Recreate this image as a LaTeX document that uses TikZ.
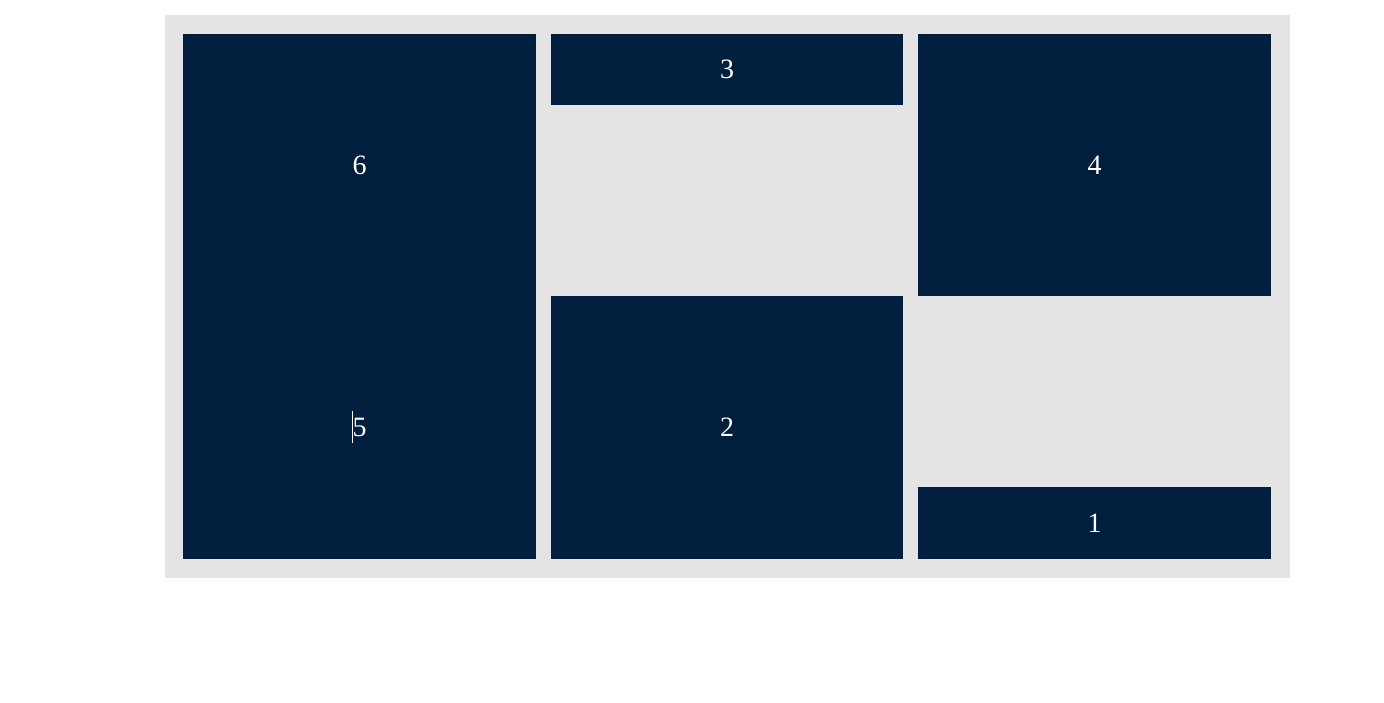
\documentclass[tikz,border=0pt]{standalone}
\usepackage{fontspec}
\setmainfont{Liberation Serif}
\definecolor{navy}{RGB}{0,31,63}
\definecolor{panel}{RGB}{228,228,228}
\begin{document}
\begin{tikzpicture}[x=1pt,y=-1pt,
  tile/.style={fill=navy,draw=none,inner sep=0pt,text=white,font=\fontsize{28}{32}\selectfont},
]
\useasboundingbox (0,0) rectangle (1384,702);
\fill[white] (0,0) rectangle (1384,702);
\fill[panel] (165,15) rectangle (1290,578);
\node[tile,minimum width=353pt,minimum height=262pt] (t6) at (359.5,165) {6};
\node[tile,minimum width=353pt,minimum height=263pt] (t5) at (359.5,427.5) {5};
\node[tile,minimum width=352pt,minimum height=71pt] (t3) at (727,69.5) {3};
\node[tile,minimum width=352pt,minimum height=263pt] (t2) at (727,427.5) {2};
\node[tile,minimum width=353pt,minimum height=262pt] (t4) at (1094.5,165) {4};
\node[tile,minimum width=353pt,minimum height=72pt] (t1) at (1094.5,523) {1};
\draw[white,line width=1.2pt] (352.7,411) -- (352.7,443);
\end{tikzpicture}
\end{document}
